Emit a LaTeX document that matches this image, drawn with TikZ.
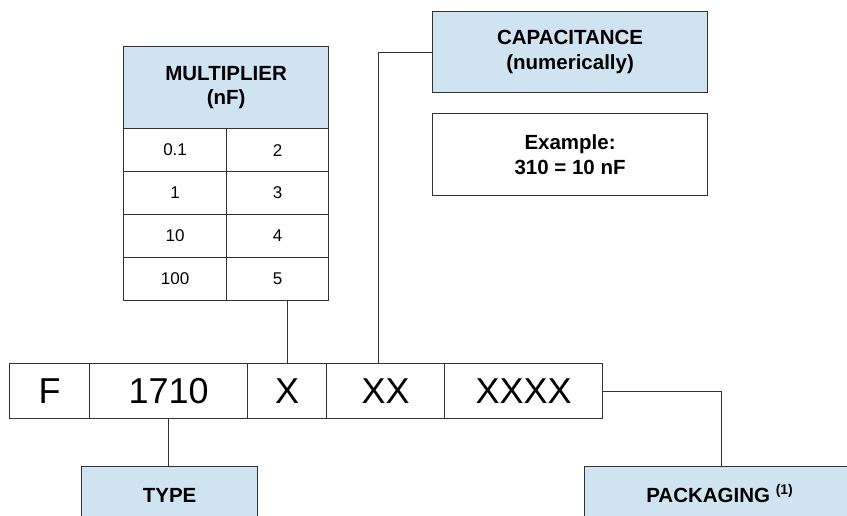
\documentclass[tikz,border=0pt]{standalone}
\usepackage{fontspec}
\setmainfont{Liberation Sans}
\definecolor{boxblue}{RGB}{207,227,241}
\definecolor{linegray}{RGB}{51,51,51}
\begin{document}
\begin{tikzpicture}[x=1pt,y=-1pt,
  box/.style={draw=linegray,line width=1.2pt,rectangle,inner sep=0pt,align=center,anchor=north west},
  bluebox/.style={box,fill=boxblue,font=\fontsize{20.5}{24.5}\selectfont\bfseries},
  whitebox/.style={box,fill=white,font=\fontsize{20.5}{24.5}\selectfont\bfseries},
  cell/.style={box,fill=white,font=\fontsize{17}{20}\selectfont},
  barcell/.style={box,fill=white,minimum height=55pt,font=\fontsize{36}{40}\selectfont},
  conn/.style={draw=linegray,line width=1pt}]
\useasboundingbox (0,0) rectangle (847,516);
\clip (0,0) rectangle (847,516);
% multiplier table
\node[bluebox,minimum width=205pt,minimum height=82pt] (mh) at (123,46) {MULTIPLIER\\(nF)};
\node[cell,minimum width=103pt,minimum height=43pt] (m1l) at (123,128) {0.1};
\node[cell,minimum width=102pt,minimum height=43pt] (m1r) at (226,128) {2};
\node[cell,minimum width=103pt,minimum height=43pt] (m2l) at (123,171) {1};
\node[cell,minimum width=102pt,minimum height=43pt] (m2r) at (226,171) {3};
\node[cell,minimum width=103pt,minimum height=43pt] (m3l) at (123,214) {10};
\node[cell,minimum width=102pt,minimum height=43pt] (m3r) at (226,214) {4};
\node[cell,minimum width=103pt,minimum height=43pt] (m4l) at (123,257) {100};
\node[cell,minimum width=102pt,minimum height=43pt] (m4r) at (226,257) {5};
% capacitance
\node[bluebox,minimum width=275pt,minimum height=81pt] (cap) at (432,11) {CAPACITANCE\\(numerically)};
\node[whitebox,minimum width=275pt,minimum height=82pt] (ex) at (432,113) {Example:\\310 = 10 nF};
% code bar
\node[barcell,minimum width=80pt] (cF) at (9,363) {F};
\node[barcell,minimum width=158pt] (c1710) at (89,363) {1710};
\node[barcell,minimum width=79pt] (cX) at (247,363) {X};
\node[barcell,minimum width=118pt] (cXX) at (326,363) {XX};
\node[barcell,minimum width=158pt] (cXXXX) at (444,363) {XXXX};
% bottom boxes
\node[bluebox,minimum width=176pt,minimum height=58pt] (type) at (81,466) {TYPE};
\node[bluebox,minimum width=270pt,minimum height=58pt] (pack) at (584,466) {PACKAGING \smash{\raisebox{8pt}{\fontsize{14}{14}\selectfont (1)}}};
% connectors
\coordinate (capx) at (378,363);
\coordinate (packx) at (721,466);
\draw[conn] (cX.north) -- (cX.north |- m4r.south);
\draw[conn] (cap.west) -| (capx);
\draw[conn] (c1710.south) -- (c1710.south |- type.north);
\draw[conn] (cXXXX.east) -| (packx);
\end{tikzpicture}
\end{document}
